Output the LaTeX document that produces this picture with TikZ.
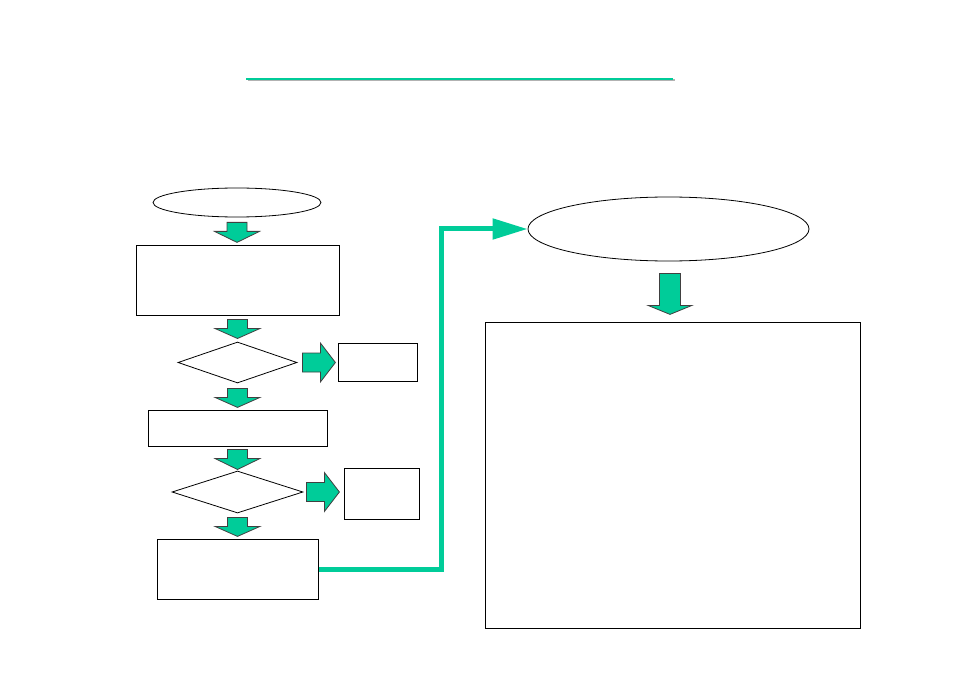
\documentclass[tikz,border=0pt]{standalone}
\usepackage{tikz}
\usepackage{xcolor}
\usetikzlibrary{arrows.meta, shapes.geometric, shadows, calc, positioning}

\definecolor{flowgreen}{RGB}{0,204,153}

\tikzset{
    box/.style={draw, line width=1pt, fill=white, inner sep=0pt,
        drop shadow={shadow xshift=1pt, shadow yshift=-1pt, fill=black!70, opacity=1}},
    oval/.style={draw, ellipse, line width=0.8pt, fill=white, inner sep=0pt},
    test/.style={draw, diamond, line width=0.8pt, fill=white, inner sep=0pt},
    link/.style={draw=flowgreen, line width=5pt, -{Triangle[length=35pt, width=20pt]}},
    pics/flowarrow/.style n args={4}{code={
        \filldraw[fill=flowgreen, draw=black!75, line width=0.8pt]
        ({-#3/2}, 0) -- ({#3/2}, 0) -- ({#3/2}, {#1-#2}) -- ({#4/2}, {#1-#2})
        -- (0, #1) -- ({-#4/2}, {#1-#2}) -- ({-#3/2}, {#1-#2}) -- cycle;
    }}
}

\begin{document}
\begin{tikzpicture}[x=1pt, y=-1pt]
                        \useasboundingbox (0, 0) rectangle (954, 674);

                        \draw[black!30, line width=2pt] (247.5, 80.5) -- (674.5, 80.5);
                        \draw[flowgreen, line width=2.5pt] (246, 79) -- (673, 79);

                        \node[oval, minimum width=168pt, minimum height=29pt] (start) at (237, 202.5) {};
                        \node[box, minimum width=203pt, minimum height=70pt] (prep) at (237.5, 280) {};
                        \node[test, minimum width=119pt, minimum height=41pt] (check1) at (237.5, 362.5) {};
                        \node[box, minimum width=79pt, minimum height=38pt] (out1) at (377.5, 362) {};
                        \node[box, minimum width=179pt, minimum height=36pt] (work) at (237.5, 428) {};
                        \node[test, minimum width=131pt, minimum height=42pt] (check2) at (237.5, 492) {};
                        \node[box, minimum width=75pt, minimum height=51pt] (out2) at (381.5, 493.5) {};
                        \node[box, minimum width=161pt, minimum height=60pt] (last) at (237.5, 569) {};
                        \node[oval, minimum width=281pt, minimum height=64pt] (goal) at (668.5, 229) {};
                        \node[box, minimum width=375pt, minimum height=306pt] (detail) at (672.5, 475) {};

                        \pic at ($(start.south)+(0, 5)$) {flowarrow={20}{11}{20}{45}};
                        \pic at ($(prep.south)+(0, 4)$) {flowarrow={19}{10}{20}{45}};
                        \pic at ($(check1.south)+(0, 5)$) {flowarrow={19}{10}{20}{45}};
                        \pic at ($(work.south)+(0, 3)$) {flowarrow={20}{11}{20}{45}};
                        \pic at ($(check2.south)+(0, 4)$) {flowarrow={19}{10}{20}{45}};
                        \pic[rotate=90] at ($(check1.east)+(5, 0)$) {flowarrow={33}{15}{19}{39}};
                        \pic[rotate=90] at ($(check2.east)+(3, 0)$) {flowarrow={33}{15}{19}{39}};
                        \pic at ($(goal.south)+(1.5, 12)$) {flowarrow={41}{9}{21}{44}};

                        \draw[link] (last.east) -- ++(123, 0) |- (goal.west);
                    \end{tikzpicture}
\end{document}
